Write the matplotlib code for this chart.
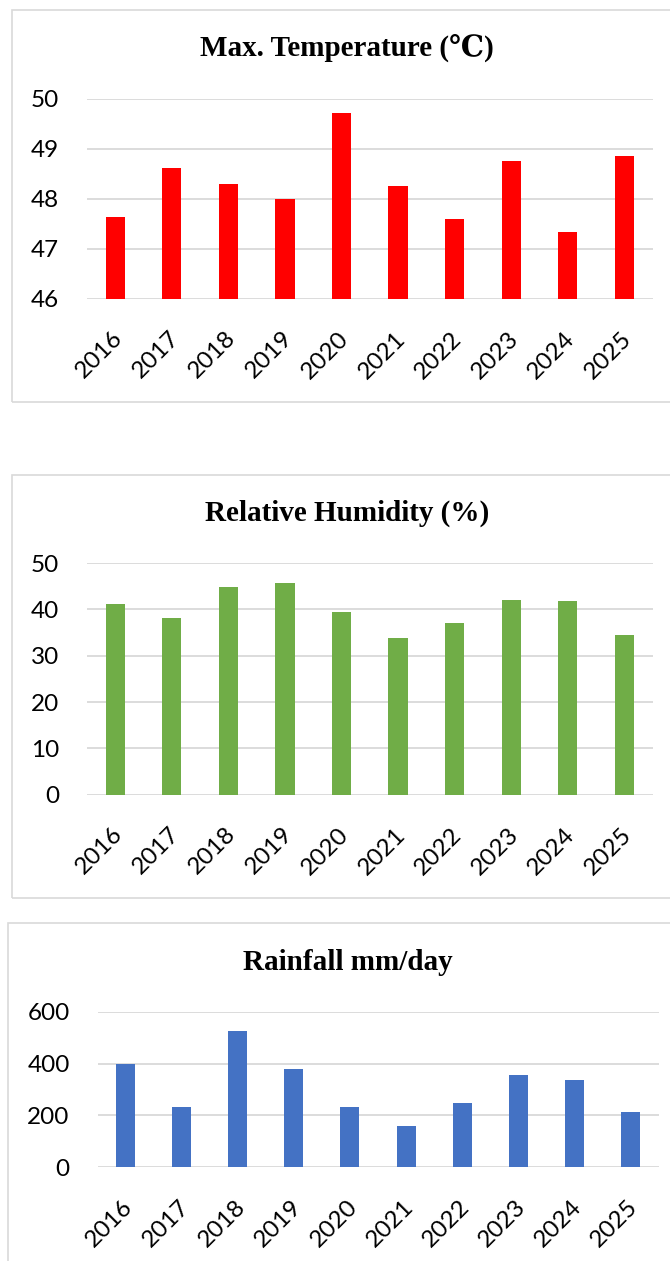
import matplotlib
matplotlib.use("Agg")
from matplotlib import pyplot as plt
from matplotlib.patches import Rectangle
from matplotlib.transforms import ScaledTranslation

years = ['2016', '2017', '2018', '2019', '2020', '2021', '2022', '2023', '2024', '2025']
max_temperature = [47.63, 48.61, 48.29, 48.0, 49.71, 48.25, 47.59, 48.76, 47.33, 48.85]
relative_humidity = [41.2, 38.2, 44.9, 45.7, 39.4, 33.8, 37.1, 42.0, 41.7, 34.5]
rainfall = [398, 233, 527, 378, 234, 157, 247, 357, 336, 214]

W, H = 670, 1261
GRID = '#d9d9d9'
TICK_FONT = ['Lato', 'DejaVu Sans']
TITLE_FONT = ['Liberation Serif', 'DejaVu Serif']


def px_rect(x0, y0, x1, y1):
    # pixel box (top-left origin) -> figure fraction [left, bottom, width, height]
    return [x0 / W, 1 - y1 / H, (x1 - x0) / W, (y1 - y0) / H]


panels = [
    # (values, colour, title, ylim, yticks, axes box, frame box, title centre)
    (max_temperature, '#ff0000', 'Max. Temperature (\u2103)', (46, 50), [46, 47, 48, 49, 50],
     (87, 98.7, 652.5, 298.7), (12, 10, 672, 402), (347, 48)),
    (relative_humidity, '#70ad47', 'Relative Humidity (%)', (0, 50), [0, 10, 20, 30, 40, 50],
     (87, 563, 652.5, 794.7), (12, 475, 672, 897.5), (347, 513)),
    (rainfall, '#4472c4', 'Rainfall mm/day', (0, 600), [0, 200, 400, 600],
     (97.5, 1012, 658.5, 1167), (8, 923, 672, 1265), (348, 962)),
]

fig = plt.figure(figsize=(W / 100, H / 100), dpi=100)
shift = ScaledTranslation(4 / 100, -3 / 100, fig.dpi_scale_trans)

for values, colour, title, ylim, yticks, ax_box, frame_box, title_pos in panels:
    x0, y0, x1, y1 = frame_box
    fig.patches.append(Rectangle((x0 / W, 1 - y1 / H), (x1 - x0) / W, (y1 - y0) / H,
                                 transform=fig.transFigure, fill=False,
                                 edgecolor=GRID, linewidth=1.2))

    ax = fig.add_axes(px_rect(*ax_box))
    ax.bar(range(len(years)), values, width=0.34, color=colour, zorder=3)
    ax.set_xlim(-0.5, len(years) - 0.5)
    ax.set_ylim(*ylim)
    ax.set_yticks(yticks)
    ax.set_xticks(range(len(years)))
    ax.set_xticklabels(years, rotation=45, ha='right', va='center',
                       rotation_mode='anchor', family=TICK_FONT, fontsize=17.5)
    ax.set_yticklabels([str(t) for t in yticks], family=TICK_FONT, fontsize=17.5)
    ax.tick_params(axis='both', length=0, colors='#000000')
    ax.tick_params(axis='y', pad=20)
    ax.tick_params(axis='x', pad=24)
    for label in ax.get_xticklabels():
        label.set_transform(label.get_transform() + shift)
    ax.grid(axis='y', color=GRID, linewidth=1.3, zorder=0)
    ax.set_axisbelow(True)
    for spine in ax.spines.values():
        spine.set_visible(False)

    fig.text(title_pos[0] / W, 1 - title_pos[1] / H, title, ha='center', va='center',
             family=TITLE_FONT, fontweight='bold', fontsize=21)

fig.savefig('out.png', dpi=100)
